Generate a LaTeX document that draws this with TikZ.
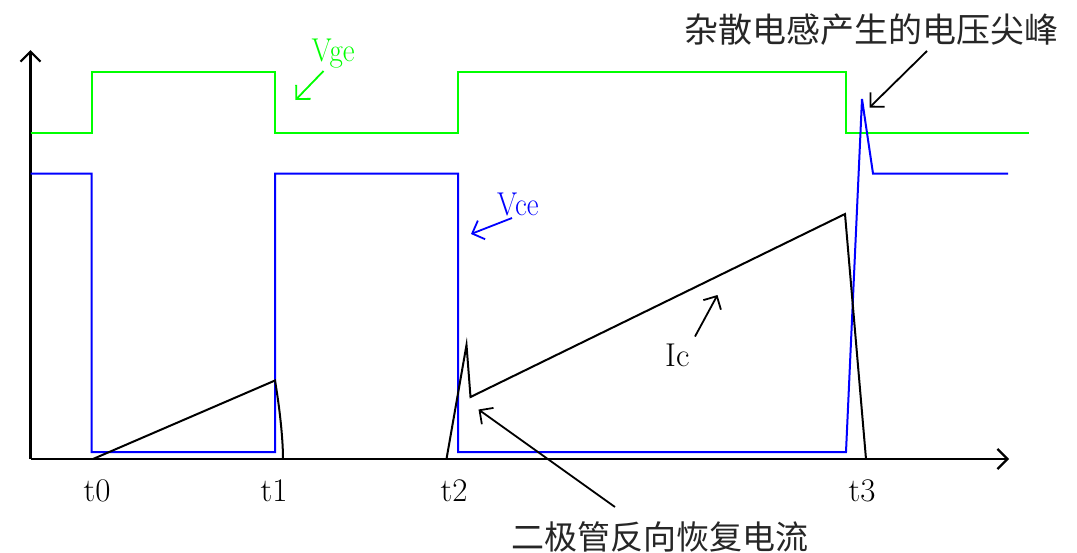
\documentclass[tikz,border=0pt]{standalone}
\usepackage{fontspec}
\newfontfamily\cjk{Noto Sans CJK SC}
\usetikzlibrary{arrows.meta}
\definecolor{vgegreen}{RGB}{0,255,0}
\definecolor{vceblue}{RGB}{0,0,255}
\begin{document}
\begin{tikzpicture}[x=1pt,y=-1pt,
  tip/.style={-{Straight Barb[length=10pt,width=20pt]}},
  axis/.style={line width=2.2pt, tip},
  vge/.style={draw=vgegreen, line width=2pt, line join=miter},
  vce/.style={draw=vceblue, line width=2pt, line join=miter},
  ic/.style={draw=black, line width=2pt},
  note/.style={line width=1.8pt, tip},
  lbl/.style={inner sep=0pt, font=\fontsize{33}{38}\selectfont},
  cn/.style={inner sep=0pt, text=black!85, font=\cjk\fontsize{34}{40}\selectfont}]
\fill[white] (0,0) rectangle (1077,552);
\useasboundingbox (0,0) rectangle (1077,552);
% axes
\coordinate (O) at (30.5,459);
\coordinate (ytop) at (30.5,50);
\coordinate (xend) at (1009,459);
\draw[axis] (O) -- (ytop);
\draw[axis] (O) -- (xend);
% Vge
\draw[vge] (30.5,132.5) -- (91.5,132.5) -- (91.5,72) -- (275,72) -- (275,132.5)
  -- (458,132.5) -- (458,72) -- (846,72) -- (846,132.5) -- (1029,132.5);
% Vce
\draw[vce] (30.5,173.5) -- (91.5,173.5) -- (91.5,452) -- (275,452) -- (275,173.5)
  -- (458,173.5) -- (458,452) -- (846,452) -- (862,99) -- (873,173.5) -- (1008,173.5);
% Ic
\draw[ic] (93,459) -- (275,380.5) .. controls (280,410) and (283,440) .. (283,459);
\draw[ic] (446.5,459) -- (466.5,345) -- (470.5,397) -- (845,214) -- (866,459);
% time labels
\node[lbl, anchor=base] (t0) at (97,501.5) {t0};
\node[lbl, anchor=base] (t1) at (274,501.5) {t1};
\node[lbl, anchor=base] (t2) at (454,501.5) {t2};
\node[lbl, anchor=base] (t3) at (862,501.5) {t3};
% signal labels
\node[lbl, anchor=base west, text=vgegreen] (vgelbl) at (311.5,61.5) {\scalebox{0.88}[1]{Vge}};
\node[lbl, anchor=base west, text=vceblue] (vcelbl) at (497,215) {\scalebox{0.88}[1]{Vce}};
\node[lbl, anchor=base west] (iclbl) at (665,366) {Ic};
\node[cn] (spikelbl) at (871.5,30) {杂散电感产生的电压尖峰};
\node[cn, font=\cjk\fontsize{33}{40}\selectfont] (diodelbl) at (660,536.5) {二极管反向恢复电流};
% annotation arrows
\coordinate (vgeA) at (323.5,71);   \coordinate (vgeB) at (295.5,100);
\coordinate (vceA) at (512,218);    \coordinate (vceB) at (471,234);
\coordinate (icA) at (695,336.5);   \coordinate (icB) at (717.5,295);
\coordinate (spA) at (927,51);      \coordinate (spB) at (869.5,107.5);
\coordinate (diA) at (615,507);     \coordinate (diB) at (478.5,409.5);
\draw[note, vgegreen] (vgeA) -- (vgeB);
\draw[note, vceblue] (vceA) -- (vceB);
\draw[note] (icA) -- (icB);
\draw[note] (spA) -- (spB);
\draw[note] (diA) -- (diB);
\end{tikzpicture}
\end{document}
